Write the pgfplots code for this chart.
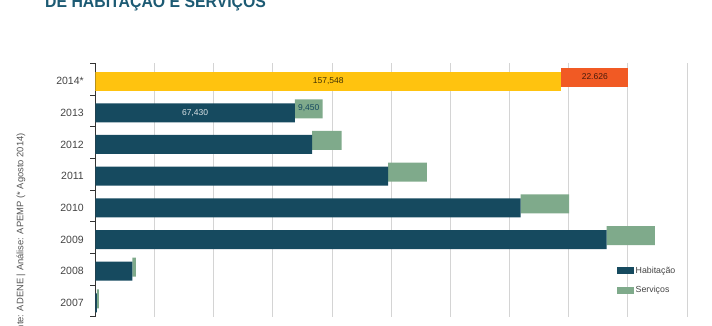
\documentclass[border=0pt]{standalone}
\usepackage{fontspec}
\setmainfont{Liberation Sans}
\usepackage{pgfplots}
\pgfplotsset{compat=1.18}
\definecolor{hab}{HTML}{164A5F}
\definecolor{serv}{HTML}{7FAA8B}
\definecolor{yel}{HTML}{FFC30F}
\definecolor{red}{HTML}{F15A24}
\definecolor{titlec}{HTML}{1C5A73}
\definecolor{srcc}{HTML}{555555}
\definecolor{gridc}{HTML}{D4D4D4}
\definecolor{axisc}{HTML}{333333}
\definecolor{lblc}{HTML}{444444}
\begin{document}
\begin{tikzpicture}[x=1pt,y=1pt]
\useasboundingbox (0,0) rectangle (712,326);
\clip (0,0) rectangle (712,326);
\node[anchor=base west, inner sep=0, font=\fontsize{17}{17}\selectfont\bfseries, text=titlec] at (45,318) {\scalebox{0.93}[1]{DE HABITAÇÃO E SERVIÇOS}};
\node[rotate=90, anchor=east, inner sep=0, font=\fontsize{9.4}{10}\selectfont, text=srcc] at (21,193) {Fonte: ADENE | Análise: APEMP (* Agosto 2014)};
\begin{axis}[
  at={(95.3pt,9.3pt)}, anchor=south west,
  scale only axis, width=591.6pt, height=253.4pt,
  xmin=0, xmax=200000,
  ymin=-0.5, ymax=7.5,
  xbar stacked, bar width=19pt,
  xtick={20000,40000,60000,80000,100000,120000,140000,160000,180000,200000},
  scaled x ticks=false,
  xticklabel={\empty},
  xmajorgrids, major x grid style={draw=gridc, line width=0.8pt},
  axis y line*=left, axis x line*=bottom,
  x axis line style={draw=none},
  xtick style={draw=none},
  ytick={0,1,2,3,4,5,6,7},
  yticklabels={2007,2008,2009,2010,2011,2012,2013,2014*},
  major tick length=0pt,
  minor ytick={-0.5,0.5,1.5,2.5,3.5,4.5,5.5,6.5,7.5},
  minor tick length=5pt,
  tick align=outside, ytick pos=left,
  y axis line style={draw=axisc, line width=0.9pt},
  minor y tick style={draw=axisc, line width=0.9pt},
  yticklabel style={font=\fontsize{10.5}{11}\selectfont, text=lblc, xshift=-8pt, yshift=-2pt},
  legend style={at={(0.882,0.206)}, anchor=north west, draw=none, fill=none,
    font=\fontsize{8.8}{9}\selectfont, text=lblc, row sep=8pt, inner sep=0pt,
    /tikz/every even column/.append style={column sep=1pt}},
  legend cell align=left,
]
\addlegendimage{legend image code/.code={\fill[hab] (0pt,-3pt) rectangle (16pt,3pt);}}
\addlegendentry{Habitação}
\addlegendimage{legend image code/.code={\fill[serv] (0pt,-3pt) rectangle (16pt,3pt);}}
\addlegendentry{Serviços}
\addplot[fill=hab, draw=none, bar shift=-2pt] coordinates {(500,0) (12500,1) (172900,2) (143800,3) (99000,4) (73300,5) (67430,6) (0,7)};
\addplot[fill=yel, draw=none, bar shift=-2pt] coordinates {(0,0) (0,1) (0,2) (0,3) (0,4) (0,5) (0,6) (157548,7)};
\addplot[fill=serv, draw=none, bar shift=2pt] coordinates {(700,0) (1200,1) (16300,2) (16400,3) (13100,4) (10000,5) (9450,6) (0,7)};
\addplot[fill=red, draw=none, bar shift=2pt] coordinates {(0,0) (0,1) (0,2) (0,3) (0,4) (0,5) (0,6) (22626,7)};
\coordinate (l1) at (axis cs:78774,7);
\coordinate (l2) at (axis cs:168861,7);
\coordinate (l3) at (axis cs:33715,6);
\coordinate (l4) at (axis cs:72155,6);
\end{axis}
\node[font=\fontsize{8.5}{9}\selectfont, text=black!75!yel, yshift=-1.5pt] at (l1) {157,548};
\node[font=\fontsize{8.5}{9}\selectfont, text=black!70!red, yshift=2.5pt] at (l2) {22.626};
\node[font=\fontsize{8.5}{9}\selectfont, text=white!85!hab, yshift=-2.5pt] at (l3) {67,430};
\node[font=\fontsize{8.5}{9}\selectfont, text=hab, yshift=3pt] at (l4) {9,450};
\end{tikzpicture}
\end{document}
